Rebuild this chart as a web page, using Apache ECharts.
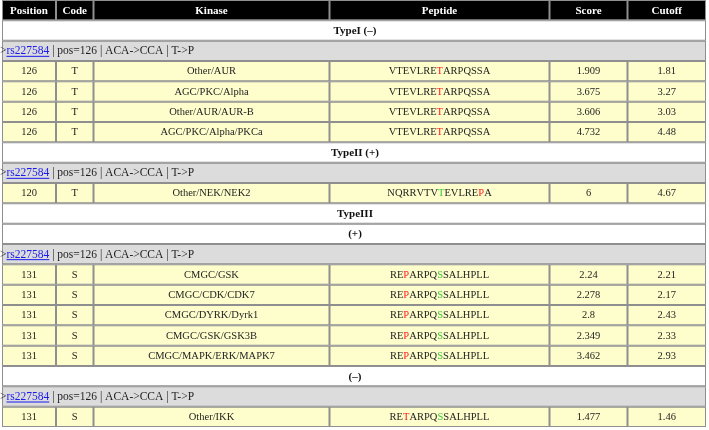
<!DOCTYPE html>
<html>
<head>
<meta charset="utf-8">
<script src="https://cdn.jsdelivr.net/npm/echarts@6/dist/echarts.min.js"></script>
<style>
html,body{margin:0;padding:0;background:#fff;}
#chart{width:709px;height:430px;}
</style>
</head>
<body>
<div id="chart"></div>
<script>
// ---------- data ----------
const headers = ['Position', 'Code', 'Kinase', 'Peptide', 'Score', 'Cutoff'];
const sectionTitles = ['TypeI (–)', 'TypeII (+)', 'TypeIII', '(+)', '(–)'];
const snpId = 'rs227584';
const snpInfo = ' | pos=126 | ACA->CCA | T->P';
const positions = [126, 126, 126, 126, 120, 131, 131, 131, 131, 131, 131];
const codes = ['T', 'T', 'T', 'T', 'T', 'S', 'S', 'S', 'S', 'S', 'S'];
const kinases = ['Other/AUR', 'AGC/PKC/Alpha', 'Other/AUR/AUR-B', 'AGC/PKC/Alpha/PKCa', 'Other/NEK/NEK2',
  'CMGC/GSK', 'CMGC/CDK/CDK7', 'CMGC/DYRK/Dyrk1', 'CMGC/GSK/GSK3B', 'CMGC/MAPK/ERK/MAPK7', 'Other/IKK'];
const peptides = ['VTEVLRETARPQSSA', 'VTEVLRETARPQSSA', 'VTEVLRETARPQSSA', 'VTEVLRETARPQSSA', 'NQRRVTVTEVLREPA',
  'REPARPQSSALHPLL', 'REPARPQSSALHPLL', 'REPARPQSSALHPLL', 'REPARPQSSALHPLL', 'REPARPQSSALHPLL', 'RETARPQSSALHPLL'];
const redResidue = [7, 7, 7, 7, 13, 2, 2, 2, 2, 2, 2];
const greenResidue = [-1, -1, -1, -1, 7, 7, 7, 7, 7, 7, 7];
const scores = [1.909, 3.675, 3.606, 4.732, 6, 2.24, 2.278, 2.8, 2.349, 3.462, 1.477];
const cutoffs = [1.81, 3.27, 3.03, 4.48, 4.67, 2.21, 2.17, 2.43, 2.33, 2.93, 1.46];
// row order: h = header, t = section title, s = snp line, d = data row
const rowKinds = ['h', 't', 's', 'd', 'd', 'd', 'd', 't', 's', 'd', 't', 't', 's', 'd', 'd', 'd', 'd', 'd', 't', 's', 'd'];

// ---------- layout ----------
const colEdges = [0, 54, 91.5, 327.5, 547.5, 625.5, 704];
const SERIF = '"Liberation Serif", "Times New Roman", serif';
const C = { border: '#8f8f8f', yellow: '#fefdcc', gray: '#dcdcdc', text: '#1e1e1e', red: '#ff1a1a', green: '#3cc83c', link: '#1a1aee' };

// map each row to its item index
const rowIndex = [];
let ti = 0, di = 0;
rowKinds.forEach(k => {
  if (k === 't') rowIndex.push(ti++);
  else if (k === 'd') rowIndex.push(di++);
  else rowIndex.push(0);
});

const mctx = document.createElement('canvas').getContext('2d');
function measure(t, font) { mctx.font = font; return mctx.measureText(t).width; }

function peptideRich(i) {
  const seq = peptides[i];
  let out = '';
  for (let k = 0; k < seq.length; k++) {
    const tag = k === redResidue[i] ? 'r' : (k === greenResidue[i] ? 'g' : 'n');
    out += '{' + tag + '|' + seq[k] + '}';
  }
  return out;
}

function renderItem(params, api) {
  const r = api.value(1);
  const kind = rowKinds[r];
  const idx = rowIndex[r];
  const top = api.coord([0, r])[1];
  const bot = api.coord([0, r + 1])[1];
  const mid = (top + bot) / 2;
  const X = e => api.coord([e, r])[0];
  const children = [];
  const cell = (x0, x1, fill) => children.push({
    type: 'rect', shape: { x: x0 + 1, y: top + 1, width: x1 - x0 - 2, height: bot - top - 2 },
    style: { fill: fill }
  });
  // border backdrop
  children.push({ type: 'rect', shape: { x: X(0), y: top, width: X(704) - X(0), height: bot - top }, style: { fill: C.border } });
  if (kind === 'h') {
    for (let c = 0; c < 6; c++) {
      cell(X(colEdges[c]), X(colEdges[c + 1]), '#000');
      children.push({ type: 'text', style: { text: headers[c], x: (X(colEdges[c]) + X(colEdges[c + 1])) / 2, y: mid + 0.5,
        align: 'center', verticalAlign: 'middle', fill: '#fff', font: 'bold 11px ' + SERIF } });
    }
  } else if (kind === 't') {
    cell(X(0), X(704), '#fff');
    children.push({ type: 'text', style: { text: sectionTitles[idx], x: (X(0) + X(704)) / 2 + 1, y: mid + 0.5,
      align: 'center', verticalAlign: 'middle', fill: '#111', font: 'bold 11px ' + SERIF } });
  } else if (kind === 's') {
    cell(X(0), X(704), C.gray);
    const font = '11.5px ' + SERIF;
    const x0 = X(0) - 2;
    children.push({ type: 'text', style: { text: '{k|>}{l|' + snpId + '}{k|' + snpInfo + '}', x: x0, y: mid + 0.5,
      align: 'left', verticalAlign: 'middle',
      rich: { k: { fill: C.text, font: font }, l: { fill: C.link, font: font } } } });
    const ux = x0 + measure('>', font);
    const uw = measure(snpId, font);
    children.push({ type: 'line', shape: { x1: ux, y1: mid + 5.5, x2: ux + uw, y2: mid + 5.5 }, style: { stroke: C.link, lineWidth: 1 } });
  } else {
    const texts = [String(positions[idx]), codes[idx], kinases[idx], null, String(scores[idx]), String(cutoffs[idx])];
    for (let c = 0; c < 6; c++) {
      cell(X(colEdges[c]), X(colEdges[c + 1]), C.yellow);
      const cx = (X(colEdges[c]) + X(colEdges[c + 1])) / 2;
      const font = '10.5px ' + SERIF;
      if (c === 3) {
        children.push({ type: 'text', style: { text: peptideRich(idx), x: cx, y: mid + 0.5, align: 'center', verticalAlign: 'middle',
          rich: { n: { fill: C.text, font: font }, r: { fill: C.red, font: font }, g: { fill: C.green, font: font } } } });
      } else {
        children.push({ type: 'text', style: { text: texts[c], x: cx, y: mid + 0.5, align: 'center', verticalAlign: 'middle',
          fill: C.text, font: font } });
      }
    }
  }
  return { type: 'group', children: children };
}

const chart = echarts.init(document.getElementById('chart'), null, { renderer: 'canvas' });
chart.setOption({
  animation: false,
  backgroundColor: '#fff',
  grid: { left: 2, top: 0, width: 704, height: 427 },
  xAxis: { type: 'value', min: 0, max: 704, show: false },
  yAxis: { type: 'value', min: 0, max: rowKinds.length, inverse: true, show: false },
  series: [{
    type: 'custom',
    clip: false,
    renderItem: renderItem,
    data: rowKinds.map((k, i) => [0, i])
  }]
});
</script>
</body>
</html>
